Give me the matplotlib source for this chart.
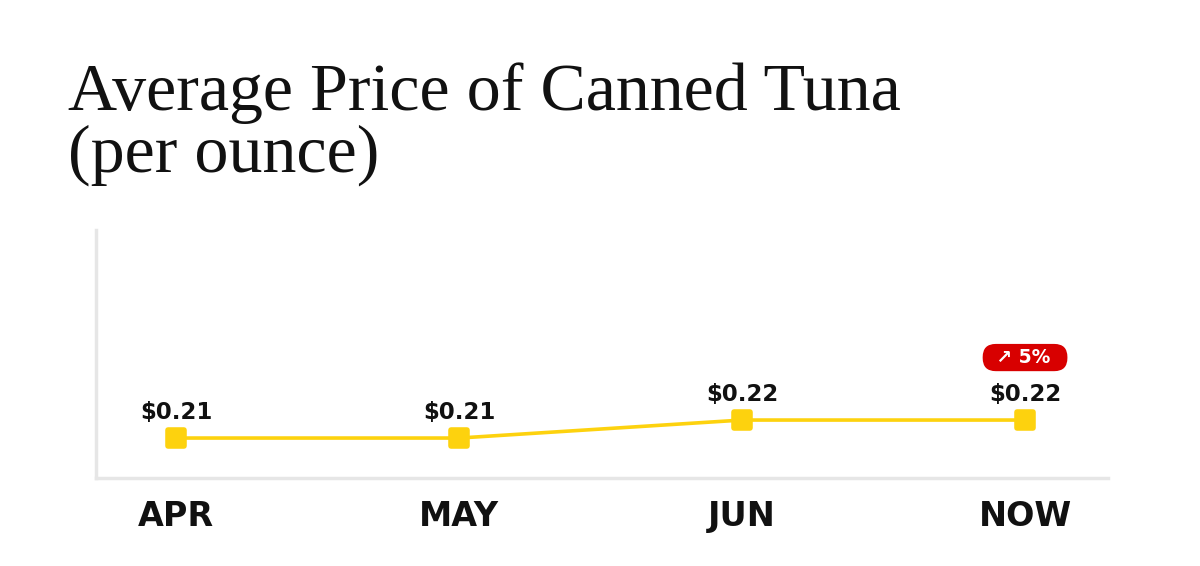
import matplotlib.pyplot as plt
from matplotlib.markers import MarkerStyle

# Chart data
months = ["APR", "MAY", "JUN", "NOW"]
prices = [0.21, 0.21, 0.22, 0.22]
price_labels = ["$0.21", "$0.21", "$0.22", "$0.22"]
change_label = "\u2197 5%"
title_lines = ["Average Price of Canned Tuna", "(per ounce)"]

YELLOW = "#FDD20E"
RED = "#D80000"
GRID = "#E6E6E6"

fig = plt.figure(figsize=(12, 5.66), dpi=100)
ax = fig.add_axes([0.08, 0.1555, 0.8433, 0.4381])

x = list(range(len(months)))
ax.plot(x, prices, color=YELLOW, lw=2.6, zorder=2)
ax.plot(x, prices, ls="none", marker=MarkerStyle("s", joinstyle="round"),
        ms=12, color=YELLOW, mec=YELLOW, mew=4, zorder=3)

ax.set_xlim(-0.283, 3.293)
ax.set_ylim(0.1878, 0.3256)

for xi, yi, lab in zip(x, prices, price_labels):
    ax.annotate(lab, (xi, yi), xytext=(0, 13.5), textcoords="offset points",
                ha="center", va="baseline", fontsize=16.5, fontweight="bold",
                family="DejaVu Sans", color="#111111")

# change badge over the last point
ax.annotate("\u2002" + change_label + "\u2002\u2009", (x[-1], prices[-1]),
            xytext=(0, 45), textcoords="offset points", ha="center",
            va="center", fontsize=13.5, fontweight="bold",
            family="DejaVu Sans", color="white",
            bbox=dict(boxstyle="round,pad=0.22,rounding_size=0.7",
                      fc=RED, ec="none"))

ax.set_xticks(x)
ax.set_xticklabels(months, fontsize=24, fontweight="bold",
                   family="DejaVu Sans", color="#111111")
ax.tick_params(axis="x", length=0, pad=16)
ax.set_yticks([])

for side in ["top", "right"]:
    ax.spines[side].set_visible(False)
for side in ["left", "bottom"]:
    ax.spines[side].set_color(GRID)
    ax.spines[side].set_linewidth(2.5)

fig.text(0.057, 1 - 110 / 566, title_lines[0], fontsize=49,
         family="Liberation Serif", color="#111111", ha="left", va="baseline")
fig.text(0.057, 1 - 172 / 566, title_lines[1], fontsize=49,
         family="Liberation Serif", color="#111111", ha="left", va="baseline")

fig.savefig("out.png", dpi=100, facecolor="white")
